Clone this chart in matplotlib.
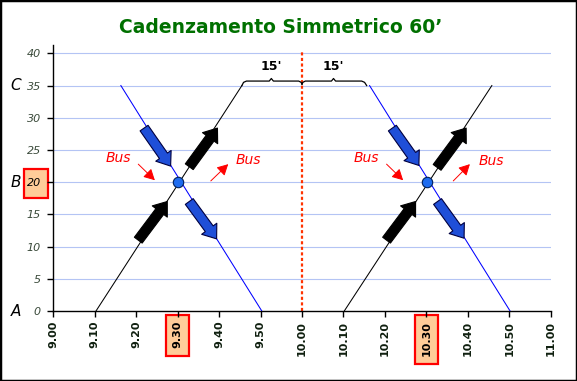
import matplotlib
matplotlib.use("Agg")
import matplotlib.pyplot as plt
from matplotlib.patches import FancyArrowPatch, Rectangle

# ---- data (x in minutes after 9.00) ----
tick_minutes = [0, 10, 20, 30, 40, 50, 60, 70, 80, 90, 100, 110, 120]
tick_labels = ['9.00', '9.10', '9.20', '9.30', '9.40', '9.50', '10.00',
               '10.10', '10.20', '10.30', '10.40', '10.50', '11.00']
y_ticks = [0, 5, 10, 15, 20, 25, 30, 35, 40]
highlight_x = ['9.30', '10.30']
highlight_y = 20

black1_x = [10.3, 45.5]
black1_y = [0, 35]
blue1_x = [16.3, 50.3]
blue1_y = [35, 0]
black2_x = [70.2, 105.8]
black2_y = [0, 35]
blue2_x = [76.3, 110.2]
blue2_y = [35, 0]

dots_x = [30.2, 90.2]
dots_y = [20, 20]

# thick arrows: (x_tail, y_tail, x_tip, y_tip)
black_arrows = [(20.5, 11.0, 27.5, 17.0), (32.8, 22.4, 39.6, 28.4),
                (80.4, 11.0, 87.4, 17.0), (92.6, 22.3, 99.6, 28.4)]
blue_arrows = [(21.9, 28.4, 28.3, 22.5), (32.8, 17.0, 39.4, 11.2),
               (81.8, 28.4, 88.2, 22.6), (92.7, 17.0, 99.1, 11.3)]
red_arrows = [(20.5, 22.8, 24.5, 20.3), (38.0, 20.2, 42.2, 22.8),
              (80.4, 22.8, 84.4, 20.3), (96.5, 20.2, 100.5, 22.8)]
bus_x = [15.7, 47.0, 75.5, 105.8]
bus_y = [23.7, 23.4, 23.7, 23.3]

divider_x = 60
brace_labels = ["15'", "15'"]
brace_label_x = [52.6, 67.6]
brace_label_y = 37.9
brace1_x = [45.5, 45.9, 46.6, 52.1, 52.6, 53.1, 59.2, 59.8, 60.0]
brace1_y = [35.0, 35.5, 35.7, 35.7, 36.1, 35.7, 35.7, 35.5, 35.2]
brace2_x = [60.0, 60.2, 60.8, 67.1, 67.6, 68.1, 74.4, 75.1, 75.6]
brace2_y = [35.2, 35.5, 35.7, 35.7, 36.1, 35.7, 35.7, 35.5, 35.0]

side_labels = ['A', 'B', 'C']
side_y = [0, 20, 35]

title = "Cadenzamento Simmetrico 60\u2019"

# ---- figure ----
W, H = 577, 381
fig = plt.figure(figsize=(W / 100, H / 100), dpi=100)
fig.patch.set_facecolor('white')
ax = fig.add_axes([53.3 / W, 1 - 311 / H, 497.4 / W, 266 / H])
ax.set_xlim(0, 120)
ax.set_ylim(0, 41.3)

for s in ['top', 'right']:
    ax.spines[s].set_visible(False)
for s in ['left', 'bottom']:
    ax.spines[s].set_linewidth(1.0)
    ax.spines[s].set_color('black')

ax.set_yticks(y_ticks)
ax.set_xticks(tick_minutes)
ax.set_xticklabels(tick_labels, rotation=90, fontweight='bold', fontsize=8,
                   color='#102010', family='DejaVu Sans')
ax.set_yticklabels([str(v) for v in y_ticks], fontstyle='italic', fontsize=8,
                   color='#3a4a3a', family='DejaVu Sans')
ax.tick_params(axis='both', direction='out', length=4, width=1, color='black')
ax.tick_params(axis='x', pad=3)
ax.tick_params(axis='y', pad=5)

# highlight boxes behind selected tick labels (figure pixel coords)
def pixel_box(x0, y0, x1, y1):
    r = Rectangle((x0 / W, 1 - y1 / H), (x1 - x0) / W, (y1 - y0) / H,
                  transform=fig.transFigure, facecolor='#ffcc99',
                  edgecolor='#ff0000', linewidth=1.6, clip_on=False, zorder=1)
    ax.add_patch(r)

xpix = {lab: 53.3 + m * 497.4 / 120 for lab, m in zip(tick_labels, tick_minutes)}
for lab in highlight_x:
    cx = xpix[lab]
    bottom = 315 + 7.3 * len(lab) + 12
    pixel_box(cx - 11.7, 315, cx + 11.7, bottom)
pixel_box(24.3, 169.3, 48.3, 198.3)

for lab in ax.get_xticklabels():
    if lab.get_text() in highlight_x:
        lab.set_color('black')
for lab in ax.get_yticklabels():
    if lab.get_text() == str(highlight_y):
        lab.set_color('black')

# gridlines
for v in y_ticks[1:]:
    ax.axhline(v, color='#b4c4f4', linewidth=0.8, zorder=0)

# divider
ax.vlines(divider_x, 0, 40.6, colors='#ff3300', linewidth=1.6,
          linestyles=(0, (1.4, 1.1)), zorder=2)

# lines
ax.plot(black1_x, black1_y, color='black', linewidth=0.75, zorder=3)
ax.plot(black2_x, black2_y, color='black', linewidth=0.75, zorder=3)
ax.plot(blue1_x, blue1_y, color='#0000ff', linewidth=0.75, zorder=3)
ax.plot(blue2_x, blue2_y, color='#0000ff', linewidth=0.75, zorder=3)

# braces
ax.plot(brace1_x, brace1_y, color='black', linewidth=0.9, zorder=3)
ax.plot(brace2_x, brace2_y, color='black', linewidth=0.9, zorder=3)
for bx, bl in zip(brace_label_x, brace_labels):
    ax.text(bx, brace_label_y, bl, ha='center', va='center', fontsize=9,
            fontweight='bold', family='DejaVu Sans', color='black')

# thick arrows
style = 'simple,head_length=9,head_width=13.5,tail_width=7'
for (x0, y0, x1, y1) in black_arrows:
    ax.add_patch(FancyArrowPatch((x0, y0), (x1, y1), arrowstyle=style,
                                 mutation_scale=1, facecolor='black',
                                 edgecolor='black', linewidth=0.8, zorder=5,
                                 shrinkA=0, shrinkB=0))
for (x0, y0, x1, y1) in blue_arrows:
    ax.add_patch(FancyArrowPatch((x0, y0), (x1, y1), arrowstyle=style,
                                 mutation_scale=1, facecolor='#1f4fd8',
                                 edgecolor='#000040', linewidth=0.8, zorder=5,
                                 shrinkA=0, shrinkB=0))

# red small arrows
for (x0, y0, x1, y1) in red_arrows:
    ax.annotate('', xy=(x1, y1), xytext=(x0, y0),
                arrowprops=dict(arrowstyle='-|>,head_length=0.6,head_width=0.32',
                                color='#ff0000', linewidth=0.7,
                                mutation_scale=11, shrinkA=0, shrinkB=0),
                zorder=5)
for bx, by in zip(bus_x, bus_y):
    ax.text(bx, by, 'Bus', ha='center', va='center', fontsize=10,
            fontstyle='italic', color='#ff0000', family='DejaVu Sans', zorder=5)

# intersection dots
ax.plot(dots_x, dots_y, 'o', markersize=7.5, markerfacecolor='#1e6cf0',
        markeredgecolor='#00205a', markeredgewidth=0.8, zorder=6)

# side labels
for lab, yv in zip(side_labels, side_y):
    ax.text(-0.075, yv, lab, transform=ax.get_yaxis_transform(), ha='center',
            va='center', fontsize=11, fontstyle='italic', color='black',
            family='DejaVu Sans', clip_on=False)

# title
fig.text(281 / W, 1 - 27.5 / H, title, ha='center', va='center', fontsize=13.5,
         fontweight='bold', color='#007000', family='DejaVu Sans')

# border
fig.patches.append(Rectangle((0, 0), 1, 1, transform=fig.transFigure,
                             fill=False, edgecolor='black', linewidth=2.5))

fig.savefig('out.png', dpi=100, facecolor='white')
